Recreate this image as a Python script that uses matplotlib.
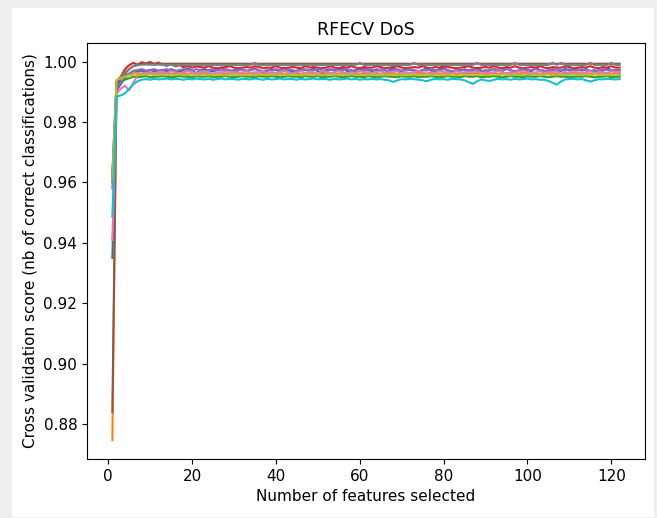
import numpy as np
import matplotlib
matplotlib.use('Agg')
import matplotlib.pyplot as plt
from matplotlib.patches import Rectangle

# number of selected features (x axis)
n_features = list(range(1, 123))

# score at 1 feature (each of the 10 cv folds)
first_score = [0.9350, 0.8747, 0.9600, 0.9620, 0.9580, 0.8840, 0.9410, 0.9630, 0.9610, 0.9486]

# scores for 2..122 features, in 1e-4 above 0.99
fold0 = [5, 25, 45, 60, 65, 68, 70, 65, 72, 68, 70,
         72, 68, 75, 70, 65, 72, 78, 70, 62, 72,
         75, 70, 68, 72, 80, 70, 65, 72, 70, 75,
         68, 72, 78, 70, 62, 70, 75, 72, 68, 80,
         72, 65, 70, 75, 72, 70, 78, 68, 62, 72,
         75, 70, 72, 80, 68, 65, 72, 70, 78, 72,
         68, 75, 70, 62, 72, 80, 70, 68, 75, 72,
         70, 65, 72, 78, 70, 68, 75, 80, 70, 62,
         72, 70, 75, 68, 72, 80, 70, 65, 72, 75,
         70, 68, 78, 72, 62, 70, 75, 72, 68, 80,
         72, 70, 65, 75, 72, 68, 78, 70, 72, 75,
         70, 75, 68, 72, 62, 70, 78, 72, 70, 72]
fold1 = [30, 45, 55, 60, 65, 62, 60, 63, 60, 62, 60,
         60, 62, 58, 60, 63, 60, 58, 62, 60, 60,
         63, 60, 58, 60, 62, 60, 60, 58, 62, 60,
         60, 63, 60, 58, 60, 62, 60, 60, 63, 58,
         60, 60, 62, 58, 60, 63, 60, 60, 58, 62,
         60, 58, 60, 63, 60, 60, 62, 58, 60, 60,
         63, 60, 58, 60, 62, 60, 58, 60, 63, 60,
         60, 62, 58, 60, 60, 63, 60, 58, 62, 60,
         60, 58, 63, 60, 60, 62, 58, 60, 60, 63,
         58, 60, 62, 60, 58, 60, 63, 60, 60, 62,
         58, 60, 60, 63, 60, 58, 62, 60, 60, 60,
         62, 60, 58, 60, 63, 60, 60, 58, 62, 60]
fold2 = [20, 35, 40, 45, 50, 48, 50, 52, 48, 50, 50,
         52, 50, 48, 50, 52, 50, 50, 48, 52, 50,
         50, 52, 48, 50, 50, 52, 50, 48, 50, 52,
         50, 50, 48, 52, 50, 50, 52, 50, 48, 50,
         52, 50, 50, 48, 52, 50, 50, 52, 48, 50,
         50, 52, 50, 48, 50, 52, 50, 50, 48, 52,
         50, 48, 50, 52, 50, 50, 48, 52, 50, 50,
         52, 48, 50, 50, 52, 50, 48, 50, 52, 50,
         50, 48, 52, 50, 50, 52, 48, 50, 50, 52,
         50, 48, 50, 52, 50, 50, 48, 52, 50, 50,
         52, 50, 48, 50, 52, 50, 50, 48, 50, 50,
         50, 52, 50, 48, 50, 50, 52, 48, 50, 50]
fold3 = [35, 50, 75, 88, 96, 90, 98, 94, 99, 92, 97,
         90, 86, 92, 85, 88, 82, 86, 80, 84, 82,
         80, 85, 80, 78, 80, 82, 85, 80, 78, 80,
         82, 80, 85, 82, 78, 80, 80, 85, 80, 78,
         80, 82, 80, 78, 85, 80, 82, 80, 78, 80,
         85, 80, 78, 82, 80, 85, 80, 78, 82, 80,
         80, 85, 82, 78, 80, 82, 85, 80, 78, 80,
         82, 80, 85, 80, 78, 82, 80, 85, 82, 80,
         78, 80, 82, 85, 80, 78, 80, 82, 80, 85,
         80, 78, 82, 80, 85, 80, 78, 80, 82, 80,
         85, 80, 78, 82, 80, 80, 85, 82, 78, 80,
         82, 80, 85, 80, 78, 82, 80, 85, 80, 80]
fold4 = [15, 30, 50, 60, 70, 72, 75, 70, 72, 75, 70,
         72, 75, 70, 68, 72, 75, 72, 70, 75, 72,
         68, 72, 75, 72, 70, 75, 72, 68, 72, 75,
         70, 72, 75, 72, 68, 72, 70, 75, 72, 70,
         75, 72, 68, 72, 75, 70, 72, 75, 72, 68,
         72, 75, 70, 72, 75, 72, 68, 72, 70, 75,
         72, 70, 75, 72, 68, 72, 75, 70, 72, 75,
         72, 68, 72, 70, 75, 72, 70, 75, 72, 68,
         72, 75, 70, 72, 75, 72, 68, 72, 70, 75,
         72, 70, 75, 72, 68, 72, 75, 70, 72, 75,
         72, 68, 72, 70, 75, 72, 70, 75, 72, 72,
         75, 72, 70, 68, 72, 75, 72, 70, 72, 72]
fold5 = [25, 45, 60, 75, 85, 90, 93, 93, 93, 93, 93,
         93, 93, 93, 93, 93, 93, 93, 93, 93, 93,
         93, 93, 93, 93, 93, 93, 93, 93, 93, 93,
         93, 93, 93, 93, 93, 93, 93, 93, 93, 93,
         93, 93, 93, 93, 93, 93, 93, 93, 93, 93,
         93, 93, 93, 93, 93, 93, 93, 93, 93, 93,
         93, 93, 93, 93, 93, 93, 93, 93, 93, 93,
         93, 93, 93, 93, 93, 93, 93, 93, 93, 93,
         93, 93, 93, 93, 93, 93, 93, 93, 93, 93,
         93, 93, 93, 93, 93, 93, 93, 93, 93, 93,
         93, 93, 93, 93, 93, 93, 93, 93, 93, 93,
         93, 93, 93, 93, 93, 93, 93, 93, 93, 93]
fold6 = [-5, 10, 20, 5, 30, 55, 60, 62, 65, 60, 65,
         65, 62, 68, 65, 60, 65, 68, 65, 62, 65,
         68, 65, 60, 65, 62, 68, 65, 65, 60, 65,
         68, 62, 65, 65, 68, 60, 65, 62, 65, 68,
         65, 60, 65, 68, 62, 65, 65, 60, 68, 65,
         62, 65, 68, 65, 60, 65, 62, 68, 65, 65,
         60, 65, 68, 62, 65, 65, 68, 60, 65, 62,
         65, 68, 65, 60, 65, 62, 68, 65, 65, 60,
         68, 65, 62, 65, 65, 68, 60, 65, 62, 65,
         68, 65, 60, 65, 62, 68, 65, 65, 60, 65,
         68, 62, 65, 65, 68, 60, 65, 62, 65, 65,
         62, 65, 68, 60, 65, 65, 62, 68, 65, 65]
fold7 = [35, 50, 65, 75, 85, 88, 90, 90, 90, 89, 90,
         89, 89, 89, 89, 89, 89, 89, 89, 89, 89,
         89, 89, 89, 89, 89, 89, 89, 89, 89, 89,
         89, 89, 96, 89, 89, 89, 89, 89, 89, 89,
         89, 89, 89, 89, 89, 89, 89, 89, 89, 89,
         89, 89, 89, 89, 89, 89, 89, 96, 89, 89,
         89, 89, 89, 89, 89, 89, 89, 89, 89, 89,
         96, 89, 89, 89, 89, 89, 89, 89, 89, 89,
         89, 89, 89, 89, 89, 96, 89, 89, 89, 89,
         89, 89, 89, 89, 96, 89, 89, 89, 89, 89,
         89, 89, 89, 96, 89, 96, 89, 89, 89, 89,
         89, 89, 96, 89, 89, 89, 89, 96, 89, 89]
fold8 = [40, 45, 50, 55, 57, 58, 55, 57, 58, 55, 57,
         56, 55, 57, 56, 58, 55, 56, 57, 55, 56,
         58, 56, 55, 57, 56, 55, 58, 56, 57, 55,
         56, 57, 55, 58, 56, 55, 57, 56, 55, 58,
         56, 57, 55, 56, 58, 55, 57, 56, 55, 56,
         58, 55, 57, 56, 55, 58, 56, 57, 55, 56,
         57, 55, 58, 56, 55, 57, 56, 55, 58, 56,
         57, 55, 56, 58, 55, 57, 56, 55, 56, 58,
         55, 57, 56, 55, 58, 56, 57, 55, 56, 57,
         55, 58, 56, 55, 57, 56, 55, 58, 56, 57,
         55, 56, 58, 55, 57, 56, 55, 56, 58, 55,
         57, 56, 55, 58, 56, 57, 55, 56, 57, 56]
fold9 = [-16, -12, -5, 10, 25, 35, 40, 42, 40, 43, 41,
         42, 44, 41, 43, 42, 40, 43, 41, 44, 42,
         41, 43, 40, 42, 44, 41, 43, 42, 40, 43,
         42, 41, 44, 42, 40, 43, 41, 42, 44, 41,
         43, 42, 40, 43, 41, 42, 44, 41, 43, 42,
         40, 43, 41, 42, 44, 41, 43, 40, 42, 41,
         43, 41, 42, 40, 38, 33, 38, 42, 41, 43,
         42, 40, 38, 35, 40, 43, 41, 42, 40, 43,
         42, 41, 38, 32, 26, 35, 41, 38, 36, 40,
         43, 41, 42, 40, 43, 41, 42, 44, 41, 42,
         40, 40, 36, 30, 24, 34, 41, 42, 43, 41,
         42, 38, 34, 38, 42, 41, 43, 42, 41, 42]

folds = [fold0, fold1, fold2, fold3, fold4, fold5, fold6, fold7, fold8, fold9]

scores = np.array([[first_score[i]] + [0.99 + v / 10000 for v in f]
                   for i, f in enumerate(folds)]).T

fig = plt.figure(figsize=(6.57, 5.18), dpi=100, facecolor='#eeeeee')
# white page behind the plot
fig.patches.append(Rectangle((12 / 657, 1 / 518), 642 / 657, 509 / 518,
                             transform=fig.transFigure, facecolor='white',
                             edgecolor='none', zorder=-1))
ax = fig.add_axes([87 / 657, 59 / 518, 558 / 657, 416 / 518])

ax.plot(n_features, scores)
ax.set_title("RFECV DoS", fontsize=12.5)
ax.set_xlabel("Number of features selected", fontsize=11)
ax.set_ylabel("Cross validation score (nb of correct classifications)", fontsize=11)
ax.tick_params(labelsize=11)

fig.savefig("out.png", dpi=100, facecolor=fig.get_facecolor())
